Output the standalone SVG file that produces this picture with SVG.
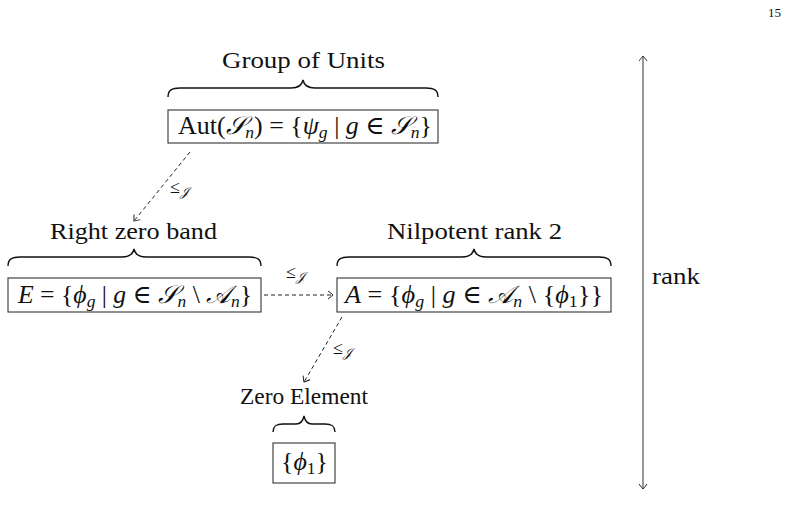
<svg xmlns="http://www.w3.org/2000/svg" width="794" height="519" viewBox="0 0 794 519">
  <style>
    .t { font-family: "Liberation Serif", "DejaVu Serif", serif; fill: #111; }
    .lbl { font-size: 24px; }
    .m { font-size: 25px; }
    .i { font-style: italic; }
    .box { fill: none; stroke: #333; stroke-width: 1.1; }
    .brace { fill: none; stroke: #111; stroke-width: 1.4; }
    .dash { fill: none; stroke: #222; stroke-width: 1; stroke-dasharray: 4 3; }
    .rel { font-size: 18px; }
  </style>
  <defs>
    <marker id="to" viewBox="-6 -5 8 10" markerWidth="8" markerHeight="10" refX="0" refY="0" orient="auto" markerUnits="userSpaceOnUse">
      <path d="M-5,-4 Q-1,-1 0,0 Q-1,1 -5,4" fill="none" stroke="#222" stroke-width="1"/>
    </marker>
    <marker id="toStart" viewBox="-6 -5 8 10" markerWidth="8" markerHeight="10" refX="0" refY="0" orient="auto-start-reverse" markerUnits="userSpaceOnUse">
      <path d="M-5,-4 Q-1,-1 0,0 Q-1,1 -5,4" fill="none" stroke="#333" stroke-width="1"/>
    </marker>
  </defs>

  <!-- page number -->
  <text class="t" x="781" y="17" font-size="13" text-anchor="end">15</text>

  <!-- top: group of units -->
  <g id="units">
    <text class="t lbl" x="222" y="68" textLength="163" lengthAdjust="spacingAndGlyphs">Group of Units</text>
    <path class="brace" d="M168,97 C168,90 172,88 180,88 L291,88 C299,88 302,85 303,80 C304,85 307,88 315,88 L426,88 C434,88 438,90 438,97"/>
    <rect class="box" x="168" y="110" width="270" height="33"/>
    <text class="t m" x="178" y="134" textLength="254" lengthAdjust="spacingAndGlyphs">Aut(<tspan class="i">𝒮</tspan><tspan class="i" font-size="17" dy="4">n</tspan><tspan dy="-4">) = {</tspan><tspan class="i">ψ</tspan><tspan class="i" font-size="17" dy="4">g</tspan><tspan dy="-4"> | </tspan><tspan class="i">g</tspan> ∈ <tspan class="i">𝒮</tspan><tspan class="i" font-size="17" dy="4">n</tspan><tspan dy="-4">}</tspan></text>
  </g>

  <!-- right zero band -->
  <g id="rzb">
    <text class="t lbl" x="50" y="239" textLength="167" lengthAdjust="spacingAndGlyphs">Right zero band</text>
    <path class="brace" d="M8,266 C8,259 12,257 20,257 L122,257 C130,257 133,254 134,249 C135,254 138,257 146,257 L249,257 C257,257 261,259 261,266"/>
    <rect class="box" x="8" y="278" width="253" height="34"/>
    <text class="t m" x="18" y="303" textLength="234" lengthAdjust="spacingAndGlyphs"><tspan class="i">E</tspan> = {<tspan class="i">ϕ</tspan><tspan class="i" font-size="17" dy="4">g</tspan><tspan dy="-4"> | </tspan><tspan class="i">g</tspan> ∈ <tspan class="i">𝒮</tspan><tspan class="i" font-size="17" dy="4">n</tspan><tspan dy="-4"> \ </tspan><tspan class="i">𝒜</tspan><tspan class="i" font-size="17" dy="4">n</tspan><tspan dy="-4">}</tspan></text>
  </g>

  <!-- nilpotent rank 2 -->
  <g id="nil">
    <text class="t lbl" x="387" y="239" textLength="175" lengthAdjust="spacingAndGlyphs">Nilpotent rank 2</text>
    <path class="brace" d="M337,266 C337,259 341,257 349,257 L462,257 C470,257 473,254 474,249 C475,254 478,257 486,257 L599,257 C607,257 611,259 611,266"/>
    <rect class="box" x="337" y="278" width="274" height="34"/>
    <text class="t m" x="345" y="303" textLength="258" lengthAdjust="spacingAndGlyphs"><tspan class="i">A</tspan> = {<tspan class="i">ϕ</tspan><tspan class="i" font-size="17" dy="4">g</tspan><tspan dy="-4"> | </tspan><tspan class="i">g</tspan> ∈ <tspan class="i">𝒜</tspan><tspan class="i" font-size="17" dy="4">n</tspan><tspan dy="-4"> \ {</tspan><tspan class="i">ϕ</tspan><tspan font-size="17" dy="4">1</tspan><tspan dy="-4">}}</tspan></text>
  </g>

  <!-- zero element -->
  <g id="zero">
    <text class="t lbl" x="240" y="404" textLength="128" lengthAdjust="spacingAndGlyphs">Zero Element</text>
    <path class="brace" d="M273,432 C273,426 276,424 283,424 L296,424 C301,424 303,421 304,416 C305,421 307,424 312,424 L325,424 C332,424 335,426 335,432"/>
    <rect class="box" x="273" y="443" width="62" height="40"/>
    <text class="t m" x="281" y="470" textLength="47" lengthAdjust="spacingAndGlyphs">{<tspan class="i">ϕ</tspan><tspan font-size="17" dy="4">1</tspan><tspan dy="-4">}</tspan></text>
  </g>

  <!-- order relations -->
  <g id="connectors">
    <path class="dash" d="M190,152 L134,221" marker-end="url(#to)"/>
    <text class="t rel" x="170" y="193">≤<tspan class="i" font-size="13" dy="3">𝒥</tspan></text>

    <path class="dash" d="M264,295 L333,295" marker-end="url(#to)"/>
    <text class="t rel" x="286" y="278">≤<tspan class="i" font-size="13" dy="3">𝒥</tspan></text>

    <path class="dash" d="M342,317 L304,382" marker-end="url(#to)"/>
    <text class="t rel" x="333" y="354">≤<tspan class="i" font-size="13" dy="3">𝒥</tspan></text>

    <!-- rank axis -->
    <path d="M643,56 L643,489" fill="none" stroke="#555" stroke-width="1.2" marker-start="url(#toStart)" marker-end="url(#to)"/>
  </g>
  <text class="t lbl" x="652" y="284" textLength="48" lengthAdjust="spacingAndGlyphs">rank</text>
</svg>
